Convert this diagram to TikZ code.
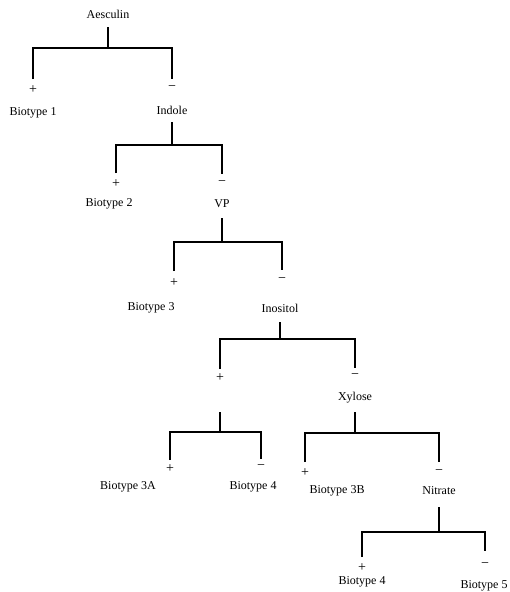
\documentclass[tikz,border=0pt]{standalone}
\usepackage{fontspec}
\setmainfont{Liberation Serif}
\begin{document}
\begin{tikzpicture}[x=1pt,y=-1pt,
  lbl/.style={font=\fontsize{12}{14}\selectfont, inner sep=0pt},
  sgn/.style={font=\fontsize{14}{16}\selectfont, inner sep=0pt},
  branch/.style={line width=2pt, line cap=butt, line join=miter}]
\useasboundingbox (0,0) rectangle (510,592);
% test nodes
\node[lbl] (aes) at (108,14) {Aesculin};
\node[lbl] (ind) at (172,110) {Indole};
\node[lbl] (vp)  at (222,204) {VP};
\node[lbl] (ino) at (280,308) {Inositol};
\node[lbl] (xyl) at (355,398) {Xylose};
\node[lbl] (nit) at (439,491) {Nitrate};
% results
\node[lbl] (bt1)  at (33,113)  {Biotype 1};
\node[lbl] (bt2)  at (109,204) {Biotype 2};
\node[lbl] (bt3)  at (151,308) {Biotype 3};
\node[lbl] (bt3a) at (128,487) {Biotype 3A};
\node[lbl] (bt4a) at (253,487) {Biotype 4};
\node[lbl] (bt3b) at (337,491) {Biotype 3B};
\node[lbl] (bt4b) at (362,582) {Biotype 4};
\node[lbl] (bt5)  at (484,586) {Biotype 5};
% signs
\node[sgn] (p1) at (33,90)   {+};
\node[sgn] (m1) at (172,88)  {−};
\node[sgn] (p2) at (116,184) {+};
\node[sgn] (m2) at (222,183) {−};
\node[sgn] (p3) at (174,283) {+};
\node[sgn] (m3) at (282,280) {−};
\node[sgn] (p4) at (220,378) {+};
\node[sgn] (m4) at (355,376) {−};
\node[sgn] (p5) at (170,469) {+};
\node[sgn] (m5) at (261,467) {−};
\node[sgn] (p6) at (305,473) {+};
\node[sgn] (m6) at (439,472) {−};
\node[sgn] (p7) at (362,568) {+};
\node[sgn] (m7) at (485,565) {−};
% junctions
\coordinate (j1) at (108,48);
\coordinate (j2) at (172,145);
\coordinate (j3) at (222,242);
\coordinate (j4) at (280,339);
\coordinate (j5) at (220,432);
\coordinate (j6) at (355,433);
\coordinate (j7) at (439,532);
% connectors
\draw[branch] ([yshift=-13pt]aes.center) -- (j1);
\draw[branch] ([yshift=11pt]p1.center) |- (j1) -| ([yshift=9pt]m1.center);
\draw[branch] ([yshift=-12pt]ind.center) -- (j2);
\draw[branch] ([yshift=11pt]p2.center) |- (j2) -| ([yshift=9pt]m2.center);
\draw[branch] ([yshift=-14pt]vp.center) -- (j3);
\draw[branch] ([yshift=12pt]p3.center) |- (j3) -| ([yshift=10pt]m3.center);
\draw[branch] ([yshift=-14pt]ino.center) -- (j4);
\draw[branch] ([yshift=9pt]p4.center) |- (j4) -| ([yshift=8pt]m4.center);
\draw[branch] ([yshift=-34pt]p4.center) -- (j5);
\draw[branch] ([yshift=9pt]p5.center) |- (j5) -| ([yshift=8pt]m5.center);
\draw[branch] ([yshift=-14pt]xyl.center) -- (j6);
\draw[branch] ([yshift=11pt]p6.center) |- (j6) -| ([yshift=10pt]m6.center);
\draw[branch] ([yshift=-16pt]nit.center) -- (j7);
\draw[branch] ([yshift=11pt]p7.center) |- (j7) -| ([yshift=14pt]m7.center);
\end{tikzpicture}
\end{document}
